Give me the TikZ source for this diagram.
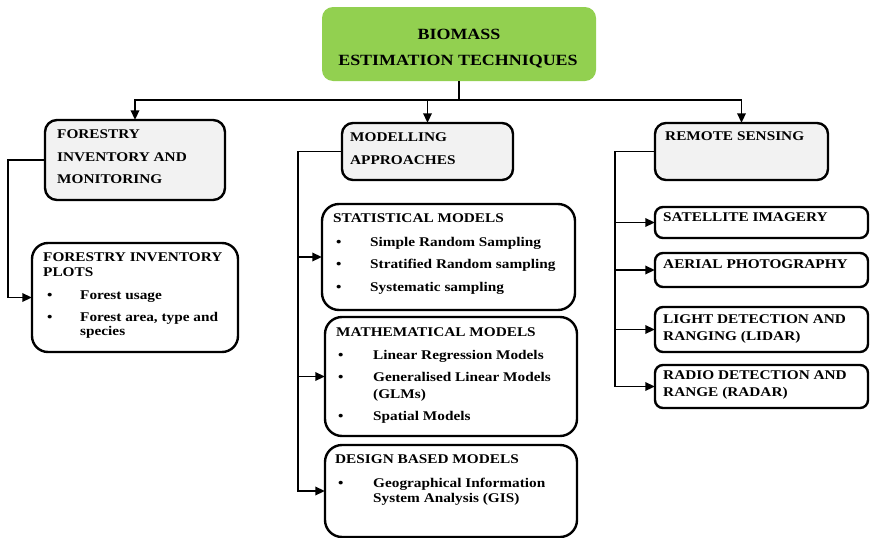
\documentclass[tikz,border=0pt]{standalone}
\usepackage{fontspec}
\setmainfont[FakeStretch=1.15]{Liberation Serif}
\usetikzlibrary{arrows.meta}
\definecolor{rootgreen}{HTML}{92D050}
\definecolor{boxgray}{HTML}{F2F2F2}
\begin{document}
\begin{tikzpicture}[x=1pt,y=-1pt,
  box/.style={draw=black, line width=2.4pt, rectangle, inner sep=0},
  conn/.style={draw=black, line width=1.9pt},
  arr/.style={conn, -{Triangle[length=9.5pt,width=8.5pt]}},
  txt/.style={anchor=base west, inner sep=0, font=\bfseries\fontsize{13.3}{15}\selectfont},
  rtxt/.style={anchor=base, inner sep=0, font=\bfseries\fontsize{15.6}{17}\selectfont}]
\useasboundingbox (0,0) rectangle (870,538);
% boxes
\path[box, fill=rootgreen, draw=none, rounded corners=11pt] (322,7) rectangle (596,81);
\node[minimum width=274pt, minimum height=74pt, inner sep=0] (root) at (459,44) {};
\path[box, fill=boxgray, rounded corners=12pt] (45,120) rectangle (225,200);
\node[minimum width=180pt, minimum height=80pt, inner sep=0] (fim) at (135,160) {};
\path[box, fill=white, rounded corners=16pt] (32,243) rectangle (238,352);
\node[minimum width=206pt, minimum height=109pt, inner sep=0] (fip) at (135,297.5) {};
\path[box, fill=boxgray, rounded corners=11pt] (342,123) rectangle (513,180);
\node[minimum width=171pt, minimum height=57pt, inner sep=0] (ma) at (427.5,151.5) {};
\path[box, fill=white, rounded corners=17pt] (322,204) rectangle (575,310);
\node[minimum width=253pt, minimum height=106pt, inner sep=0] (sm) at (448.5,257) {};
\path[box, fill=white, rounded corners=17pt] (325,317) rectangle (577,436);
\node[minimum width=252pt, minimum height=119pt, inner sep=0] (mm) at (451,376.5) {};
\path[box, fill=white, rounded corners=17pt] (325,445) rectangle (577,537);
\node[minimum width=252pt, minimum height=92pt, inner sep=0] (dm) at (451,491) {};
\path[box, fill=boxgray, rounded corners=11pt] (655,123) rectangle (828,180);
\node[minimum width=173pt, minimum height=57pt, inner sep=0] (rs) at (741.5,151.5) {};
\path[box, fill=white, rounded corners=8pt] (655,207) rectangle (868,238);
\node[minimum width=213pt, minimum height=31pt, inner sep=0] (si) at (761.5,222.5) {};
\path[box, fill=white, rounded corners=8pt] (655,253) rectangle (868,287);
\node[minimum width=213pt, minimum height=34pt, inner sep=0] (ap) at (761.5,270) {};
\path[box, fill=white, rounded corners=8pt] (655,307) rectangle (868,352);
\node[minimum width=213pt, minimum height=45pt, inner sep=0] (li) at (761.5,329.5) {};
\path[box, fill=white, rounded corners=8pt] (655,365) rectangle (868,408);
\node[minimum width=213pt, minimum height=43pt, inner sep=0] (ra) at (761.5,386.5) {};
% texts
\node[rtxt] (t1) at (459,39) {BIOMASS};
\node[rtxt] (t2) at (458,65) {ESTIMATION TECHNIQUES};
\node[txt] (f1) at (57,138.5) {FORESTRY};
\node[txt] (f2) at (57,161.5) {INVENTORY AND};
\node[txt] (f3) at (57,183.5) {MONITORING};
\node[txt] (p1) at (43,261.5) {FORESTRY INVENTORY};
\node[txt] (p2) at (43,276.5) {PLOTS};
\node[txt] (pb1) at (47,299.5) {•};
\node[txt] (p3) at (80,299.5) {Forest usage};
\node[txt] (pb2) at (47,321.5) {•};
\node[txt] (p4) at (80,321.5) {Forest area, type and};
\node[txt] (p5) at (80,335.5) {species};
\node[txt] (m1) at (350,141.5) {MODELLING};
\node[txt] (m2) at (350,164.5) {APPROACHES};
\node[txt] (s0) at (333,222.5) {STATISTICAL MODELS};
\node[txt] (sb1) at (336,246.5) {•};
\node[txt] (s1) at (370,246.5) {Simple Random Sampling};
\node[txt] (sb2) at (336,268.5) {•};
\node[txt] (s2) at (370,268.5) {Stratified Random sampling};
\node[txt] (sb3) at (336,291.5) {•};
\node[txt] (s3) at (370,291.5) {Systematic sampling};
\node[txt] (h0) at (336,336.5) {MATHEMATICAL MODELS};
\node[txt] (hb1) at (338,359.5) {•};
\node[txt] (h1) at (373,359.5) {Linear Regression Models};
\node[txt] (hb2) at (338,381.5) {•};
\node[txt] (h2) at (373,381.5) {Generalised Linear Models};
\node[txt] (h3) at (373,398.5) {(GLMs)};
\node[txt] (hb3) at (338,420.5) {•};
\node[txt] (h4) at (373,420.5) {Spatial Models};
\node[txt] (d0) at (335,463.5) {DESIGN BASED MODELS};
\node[txt] (db1) at (338,487.5) {•};
\node[txt] (d1) at (373,487.5) {Geographical Information};
\node[txt] (d2) at (373,502.5) {System Analysis (GIS)};
\node[txt] (r0) at (665,140.5) {REMOTE SENSING};
\node[txt] (r1) at (663,221.5) {SATELLITE IMAGERY};
\node[txt] (r2) at (663,268.5) {AERIAL PHOTOGRAPHY};
\node[txt] (r3) at (663,323.5) {LIGHT DETECTION AND};
\node[txt] (r4) at (663,340.5) {RANGING (LIDAR)};
\node[txt] (r5) at (663,379.5) {RADIO DETECTION AND};
\node[txt] (r6) at (663,396.5) {RANGE (RADAR)};
% connectors
\coordinate (bus) at (459,100);
\draw[conn] (root.south) -- (bus);
\draw[arr] (bus) -| (fim.north);
\draw[arr] (bus) -| (ma.north);
\draw[arr] (bus) -| (rs.north);
\coordinate (fl) at (8,160);
\draw[arr] (fim.west) -- (fl) |- (fip.west);
\coordinate (ml) at (298,151.5);
\draw[arr] (ma.west) -- (ml) |- (dm.west);
\draw[arr] (ml |- sm.west) -- (sm.west);
\draw[arr] (ml |- mm.west) -- (mm.west);
\coordinate (rl) at (615,151.5);
\draw[arr] (rs.west) -- (rl) |- (ra.west);
\draw[arr] (rl |- si.west) -- (si.west);
\draw[arr] (rl |- ap.west) -- (ap.west);
\draw[arr] (rl |- li.west) -- (li.west);
\end{tikzpicture}
\end{document}
